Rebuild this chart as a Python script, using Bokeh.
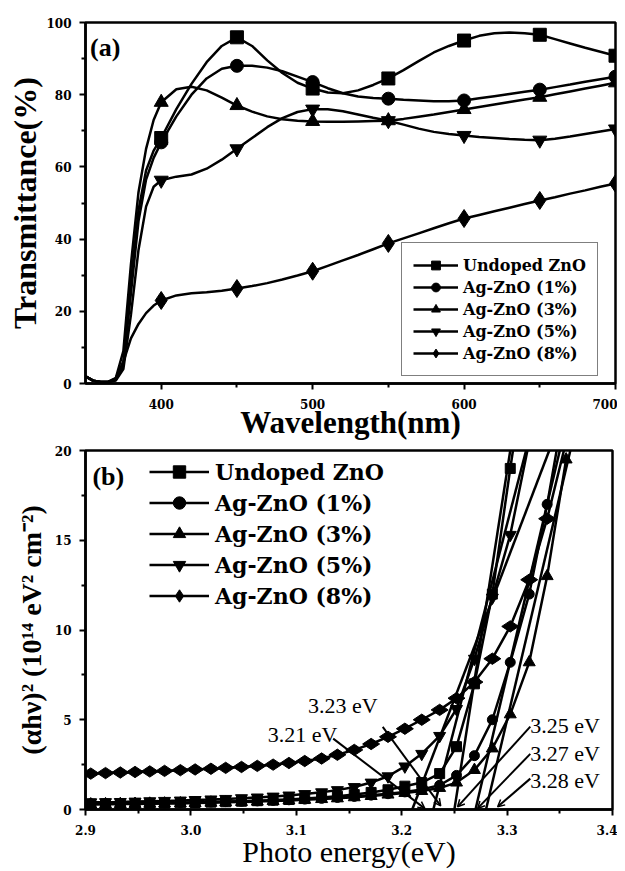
import numpy as np
from bokeh.plotting import figure
from bokeh.models import (FixedTicker, Legend, LegendItem, Label, Arrow, OpenHead,
                          ColumnDataSource, NumeralTickFormatter)
from bokeh.layouts import column
from bokeh.core.properties import value
from bokeh.embed import file_html
from bokeh.resources import INLINE

# ---------------- data: panel (a) transmittance ----------------
wavelength = [350, 355, 360, 365, 370, 375, 380, 385, 390, 395,
              400, 410, 420, 430, 440, 450, 460, 470, 480, 490,
              500, 510, 520, 530, 540, 550, 560, 570, 580, 590,
              600, 610, 620, 630, 640, 650, 660, 670, 680, 690, 700]
T_undoped = [2.0, 0.8, 0.4, 0.4, 1.0, 6, 28, 48, 59, 64.5,
             68, 76, 83, 89, 93.5, 95.9, 93.5, 89.5, 86, 83.3,
             81.7, 80.6, 80.4, 81.2, 82.7, 84.5, 86.8, 89.3, 91.7, 93.5,
             95.0, 96.3, 97.0, 97.2, 97.0, 96.6, 95.4, 94.2, 93.0, 91.9, 90.8]
T_ag1 = [2.0, 0.8, 0.4, 0.4, 1.0, 5, 25, 45, 56.5, 62.5,
         66.8, 74, 80, 84.5, 87.2, 88.0, 88.0, 87.5, 86.5, 85.0,
         83.5, 81.8, 80.4, 79.5, 79.1, 78.9, 78.6, 78.4, 78.2, 78.2,
         78.4, 79.0, 79.6, 80.2, 80.8, 81.4, 82.1, 82.8, 83.6, 84.3, 85.0]
T_ag3 = [2.0, 0.8, 0.4, 0.4, 1.5, 9, 33, 53, 65, 73,
         77.9, 81.5, 82.2, 81.2, 79.2, 77.0, 75.3, 74.0, 73.2, 72.8,
         72.6, 72.5, 72.5, 72.6, 72.7, 72.8, 73.3, 73.9, 74.5, 75.2,
         75.9, 76.6, 77.3, 78.0, 78.7, 79.3, 80.1, 80.9, 81.7, 82.5, 83.3]
T_ag5 = [2.0, 0.8, 0.4, 0.4, 0.8, 4, 19, 37, 49, 54.5,
         56.3, 57.3, 57.9, 59.5, 62.0, 65.0, 68.0, 71.0, 73.5, 75.2,
         76.0, 76.0, 75.4, 74.5, 73.6, 72.8, 71.7, 70.6, 69.7, 69.1,
         68.7, 68.3, 68.0, 67.7, 67.5, 67.4, 67.8, 68.4, 69.1, 69.8, 70.5]
T_ag8 = [2.0, 0.8, 0.4, 0.5, 1.5, 6, 12.5, 16.5, 19.5, 21.6,
         23.0, 24.4, 25.0, 25.3, 25.7, 26.3, 27.0, 27.8, 28.8, 29.9,
         31.1, 32.6, 34.1, 35.6, 37.2, 38.8, 40.2, 41.6, 43.0, 44.4,
         45.7, 46.7, 47.7, 48.7, 49.7, 50.7, 51.6, 52.6, 53.5, 54.5, 55.4]

# ---------------- data: panel (b) Tauc plot ----------------
energy = [2.905, 2.919, 2.933, 2.947, 2.961, 2.975, 2.990, 3.004, 3.019, 3.033,
          3.048, 3.063, 3.078, 3.093, 3.108, 3.124, 3.139, 3.155, 3.171, 3.187,
          3.203, 3.219, 3.236, 3.252, 3.269, 3.286, 3.303, 3.321, 3.338, 3.356]
A_undoped = [0.30, 0.31, 0.32, 0.33, 0.34, 0.35, 0.37, 0.39, 0.41, 0.43,
             0.46, 0.49, 0.52, 0.56, 0.61, 0.67, 0.74, 0.83, 0.95, 1.10,
             1.30, 1.50, 2.00, 3.5, 7.0, 12.0, 19.0, 26.0, 33.0, 41.0]
A_ag1 = [0.32, 0.33, 0.34, 0.35, 0.36, 0.37, 0.38, 0.40, 0.42, 0.44,
         0.46, 0.48, 0.51, 0.54, 0.58, 0.62, 0.67, 0.73, 0.80, 0.88,
         0.98, 1.12, 1.35, 1.9, 3.0, 5.0, 8.2, 12.0, 17.0, 23.0]
A_ag3 = [0.28, 0.29, 0.30, 0.31, 0.32, 0.33, 0.34, 0.36, 0.38, 0.40,
         0.42, 0.44, 0.47, 0.50, 0.54, 0.58, 0.62, 0.68, 0.75, 0.83,
         0.92, 1.03, 1.2, 1.5, 2.2, 3.4, 5.3, 8.2, 13.0, 19.5]
A_ag5 = [0.40, 0.41, 0.42, 0.44, 0.46, 0.48, 0.50, 0.53, 0.56, 0.59,
         0.63, 0.67, 0.72, 0.78, 0.86, 0.96, 1.08, 1.25, 1.5, 1.85,
         2.4, 3.1, 4.1, 5.6, 8.4, 11.8, 15.3, 20.5, 26.0, 32.0]
A_ag8 = [2.00, 2.03, 2.06, 2.09, 2.12, 2.15, 2.19, 2.23, 2.27, 2.32,
         2.37, 2.43, 2.50, 2.59, 2.70, 2.84, 3.05, 3.32, 3.65, 4.05,
         4.50, 5.00, 5.55, 6.20, 7.10, 8.40, 10.2, 12.8, 16.2, 20.5]

# linear extrapolations (band gap intercept -> value 20)
tangent_Eg = [3.25, 3.27, 3.28, 3.23, 3.21]
tangent_Etop = [3.303, 3.35, 3.36, 3.318, 3.34]
tangent_ytop = [20, 20, 20, 20, 20]
tangent_y0 = [0, 0, 0, 0, 0]

# band-gap annotations
gap_labels = ["3.23 eV", "3.21 eV", "3.25 eV", "3.27 eV", "3.28 eV"]
gap_label_x = [3.111, 3.073, 3.322, 3.322, 3.322]
gap_label_y = [5.8, 4.2, 4.68, 3.12, 1.62]
arrow_x0 = [3.182, 3.135, 3.322, 3.322, 3.322]
arrow_y0 = [4.6, 3.95, 4.62, 3.1, 1.72]
arrow_x1 = [3.237, 3.222, 3.253, 3.272, 3.291]
arrow_y1 = [0.2, 0.05, 0.15, 0.06, 0.15]

names = ["Undoped ZnO", "Ag-ZnO (1%)", "Ag-ZnO (3%)", "Ag-ZnO (5%)", "Ag-ZnO (8%)"]
T_series = [T_undoped, T_ag1, T_ag3, T_ag5, T_ag8]
A_series = [A_undoped, A_ag1, A_ag3, A_ag5, A_ag8]
markers = ["square", "circle", "triangle", "inverted_triangle", "diamond"]
size_a = [13, 13, 14, 14, 18]
size_b = [10, 10, 12, 12, 17]
angle_b = [0, 0, 0, 0, np.pi / 2]

SERIF = "Liberation Serif"
TICKF = "DejaVu Serif"


def style(p, xstand, ystand):
    for ax, st in ((p.xaxis[0], xstand), (p.yaxis[0], ystand)):
        ax.axis_line_width = 2.5
        ax.axis_line_color = "black"
        ax.major_tick_line_width = 2
        ax.minor_tick_line_width = 2
        ax.major_tick_line_color = "black"
        ax.minor_tick_line_color = "black"
        ax.major_tick_out = 6
        ax.major_tick_in = 0
        ax.minor_tick_out = 4
        ax.minor_tick_in = 0
        ax.major_label_text_font = TICKF
        ax.major_label_text_font_style = "bold"
        ax.major_label_text_font_size = "12px"
        ax.major_label_text_color = "black"
        ax.major_label_standoff = st
        ax.axis_label_text_color = "black"
        ax.axis_label_text_font = SERIF
    p.outline_line_color = "black"
    p.outline_line_width = 2.5
    p.outline_line_alpha = 1
    p.xgrid.visible = False
    p.ygrid.visible = False
    p.background_fill_color = "white"
    p.border_fill_color = "white"


# ---------------- panel (a) ----------------
pa = figure(frame_width=530, frame_height=361, x_range=(350, 700), y_range=(0, 100),
            output_backend="svg", toolbar_location=None,
            min_border_left=82, min_border_right=5, min_border_top=22, min_border_bottom=60)
style(pa, 9, 8)
pa.xaxis.ticker = FixedTicker(ticks=[400, 500, 600, 700], minor_ticks=[450, 550, 650])
pa.yaxis.ticker = FixedTicker(ticks=[0, 20, 40, 60, 80, 100], minor_ticks=[10, 30, 50, 70, 90])
pa.xaxis.axis_label = "Wavelength(nm)"
pa.yaxis.axis_label = "Transmittance(%)"
pa.xaxis.axis_label_text_font_style = "bold"
pa.yaxis.axis_label_text_font_style = "bold"
pa.xaxis.axis_label_text_font_size = "31px"
pa.yaxis.axis_label_text_font_size = "32px"
pa.xaxis.axis_label_standoff = -7
pa.yaxis.axis_label_standoff = 0

wl = np.array(wavelength)
mask = (wl >= 400) & (wl % 50 == 0)
items_a = []
for name, ys, m, sz in zip(names, T_series, markers, size_a):
    ys = np.array(ys)
    lr = pa.line(wl, ys, line_color="black", line_width=2.5)
    sr = pa.scatter(wl[mask], ys[mask], marker=m, size=sz,
                    fill_color="black", line_color="black")
    items_a.append(LegendItem(label=name, renderers=[lr, sr]))

leg_a = Legend(items=items_a, location=(316, 7), orientation="vertical",
               glyph_width=45, glyph_height=22, spacing=0, padding=11,
               label_standoff=5, label_height=20,
               label_text_font=TICKF, label_text_font_style="bold",
               label_text_font_size="16px", label_text_color="black",
               border_line_color="black", border_line_width=1.5,
               background_fill_color="white", background_fill_alpha=1)
pa.add_layout(leg_a)
pa.add_layout(Label(x=353, y=97.2, text="(a)", text_font=SERIF, text_font_style="bold",
                    text_font_size="26px", text_baseline="top", text_align="left",
                    text_color="black"))

# ---------------- panel (b) ----------------
pb = figure(frame_width=527, frame_height=359, x_range=(2.9, 3.4), y_range=(0, 20),
            output_backend="svg", toolbar_location=None,
            min_border_left=85, min_border_right=5, min_border_top=7, min_border_bottom=58)
style(pb, 9, 8)
pb.xaxis.ticker = FixedTicker(ticks=[2.9, 3.0, 3.1, 3.2, 3.3, 3.4],
                              minor_ticks=[2.95, 3.05, 3.15, 3.25, 3.35])
pb.xaxis.formatter = NumeralTickFormatter(format="0.0")
pb.yaxis.ticker = FixedTicker(ticks=[0, 5, 10, 15, 20], minor_ticks=[2.5, 7.5, 12.5, 17.5])
pb.xaxis.axis_label = "Photo energy(eV)"
pb.yaxis.axis_label = "(αhν)² (10¹⁴ eV² cm⁻²)"
pb.xaxis.axis_label_text_font_style = "normal"
pb.xaxis.axis_label_text_font_size = "30px"
pb.yaxis.axis_label_text_font_style = "bold"
pb.yaxis.axis_label_text_font_size = "28px"
pb.xaxis.axis_label_standoff = -3
pb.yaxis.axis_label_standoff = 5

pb.segment(x0=tangent_Eg, y0=tangent_y0, x1=tangent_Etop, y1=tangent_ytop,
           line_color="black", line_width=2.5)

E = np.array(energy)
items_b = []
for name, ys, m, sz, ang in zip(names, A_series, markers, size_b, angle_b):
    ys = np.array(ys)
    lr = pb.line(E, ys, line_color="black", line_width=2.5)
    sr = pb.scatter(E, ys, marker=m, size=sz, angle=ang,
                    fill_color="black", line_color="black")
    items_b.append(LegendItem(label=name, renderers=[lr, sr]))

leg_b = Legend(items=items_b, location=(62, 196), orientation="vertical",
               glyph_width=60, glyph_height=31, spacing=0, padding=2,
               label_standoff=6, label_height=20,
               label_text_font=TICKF, label_text_font_style="bold",
               label_text_font_size="22px", label_text_color="black",
               border_line_alpha=0, background_fill_alpha=0)
pb.add_layout(leg_b)
pb.add_layout(Label(x=2.9066, y=19.35, text="(b)", text_font=SERIF, text_font_style="bold",
                    text_font_size="26px", text_baseline="top", text_align="left",
                    text_color="black"))

arrow_src = ColumnDataSource(dict(x0=arrow_x0, y0=arrow_y0, x1=arrow_x1, y1=arrow_y1))
pb.add_layout(Arrow(x_start="x0", y_start="y0", x_end="x1", y_end="y1", source=arrow_src,
                    line_color="black", line_width=2,
                    end=OpenHead(size=7, line_width=1.5, line_color="black")))
pb.text(x=gap_label_x, y=gap_label_y, text=gap_labels,
        text_font=value(SERIF), text_font_size=value("22px"),
        text_baseline="middle", text_align="left", text_color="black")

layout = column(pa, pb, spacing=0)
open("out.html", "w").write(file_html(layout, INLINE))
